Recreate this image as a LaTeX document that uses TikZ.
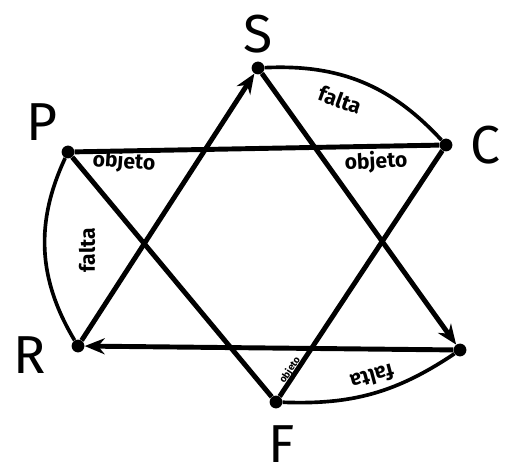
\documentclass[tikz,border=0pt]{standalone}
\usepackage{fontspec}
\setsansfont{Fira Sans}
\usetikzlibrary{arrows.meta}
\tikzset{
    % vertex dots and letters
    vertex/.style={
        circle,
        fill=black,
        inner sep=0pt,
        minimum size=0.32cm
    },
    letter/.style={
        font=\sffamily\fontsize{38}{38}\selectfont,
        inner sep=0pt
    },
    % edge labels
    edgelabel/.style={
        font=\sffamily\bfseries\fontsize{15}{15}\selectfont,
        inner sep=1pt
    },
    % edges
    line/.style={
        line width=3.5pt,
        draw=black
    },
    arrow/.style={
        -{Stealth[length=0.5cm,width=0.4cm]},
        line width=3.5pt,
        draw=black
    },
    arc/.style={
        line width=2.6pt,
        draw=black
    }
}
\begin{document}
\begin{tikzpicture}[x=0.025cm, y=0.025cm]
    \useasboundingbox (0,0) rectangle (505,474);

    \node[vertex] (s) at (258,406) {};
    \node[vertex] (c) at (446,329) {};
    \node[vertex] (p) at (68,322) {};
    \node[vertex] (r) at (78,128) {};
    \node[vertex] (f) at (276,72) {};
    \node[vertex] (q) at (460,124) {};

    \node[letter] (ls) at (258,440) {S};
    \node[letter] (lc) at (485,329) {C};
    \node[letter] (lp) at (42,352) {P};
    \node[letter] (lr) at (30,119) {R};
    \node[letter] (lf) at (282,30) {F};

    \draw[line] (p) -- (c);
    \draw[line] (p) -- (f);
    \draw[line] (c) -- (f);
    \draw[arrow] (r) -- (s);
    \draw[arrow] (s) -- (q);
    \draw[arrow] (q) -- (r);

    \draw[arc] (s) to[bend left=25] (c);
    \draw[arc] (p) to[bend right=28] (r);
    \draw[arc] (f) to[bend right=18] (q);

    \node[edgelabel, rotate=-20] (fa1) at (340,374) {falta};
    \node[edgelabel, rotate=90] (fa2) at (87,224) {falta};
    \node[edgelabel, rotate=195] (fa3) at (372,97) {falta};
    \node[edgelabel, rotate=-4] (ob1) at (124,312) {objeto};
    \node[edgelabel, rotate=3] (ob2) at (376,312) {objeto};
    \node[edgelabel, rotate=57, font=\sffamily\bfseries\fontsize{7}{7}\selectfont] (ob3) at (290,104) {objeto};
\end{tikzpicture}
\end{document}
